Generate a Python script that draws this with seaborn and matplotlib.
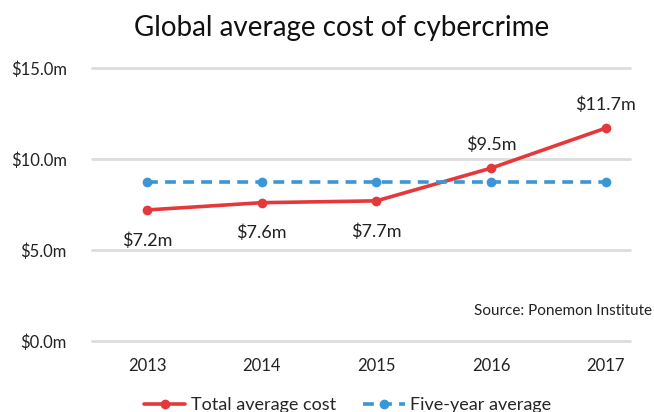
import matplotlib
matplotlib.use("Agg")
import matplotlib.pyplot as plt
import seaborn as sns
import pandas as pd

years = ["2013", "2014", "2015", "2016", "2017"]
total_cost = [7.2, 7.6, 7.7, 9.5, 11.7]
five_year_avg = [8.74, 8.74, 8.74, 8.74, 8.74]
yticks = [0, 5, 10, 15]

sns.set_style("white")
plt.rcParams["font.family"] = ["Lato", "DejaVu Sans"]

red = "#e5383b"
blue = "#3a96d6"

df = pd.DataFrame({"year": list(range(len(years))), "total": total_cost, "avg": five_year_avg})

fig = plt.figure(figsize=(6.54, 4.12), dpi=100)
ax = fig.add_axes([92 / 654, 1 - 341 / 412, (630 - 92) / 654, (341 - 68) / 412])

sns.lineplot(data=df, x="year", y="total", ax=ax, color=red, lw=2.6, marker="o",
             markersize=7, markeredgewidth=0, label="Total average cost")
sns.lineplot(data=df, x="year", y="avg", ax=ax, color=blue, lw=2.6, marker="o",
             markersize=7, markeredgewidth=0, dashes=False, label="Five-year average")
ax.lines[1].set_linestyle((0, (3, 2)))

for i, v in enumerate(total_cost):
    off = -22 if i < 3 else 17
    ax.annotate(f"${v:.1f}m", (i, v), xytext=(0, off), textcoords="offset points",
                ha="center", va="center", fontsize=13, color="#222222")

ax.set_xlim(-0.48, 4.21)
ax.set_ylim(0, 15)
ax.set_yticks(yticks)
ax.set_yticklabels([f"${t:.1f}m" for t in yticks])
ax.set_xticks(range(len(years)))
ax.set_xticklabels(years)
ax.tick_params(axis="both", length=0, labelsize=12, labelcolor="#222222")
ax.tick_params(axis="y", pad=18)
ax.tick_params(axis="x", pad=12)
ax.set_xlabel("")
ax.set_ylabel("")
ax.yaxis.grid(True, color="#dddddd", lw=2)
ax.set_axisbelow(True)
for s in ax.spines.values():
    s.set_visible(False)
for ln in ax.get_ygridlines():
    ln.set_clip_on(False)

ax.text(1.0 + 22 / 538, 0.11, "Source: Ponemon Institute", transform=ax.transAxes,
        ha="right", va="center", fontsize=11, color="#222222")

fig.suptitle("Global average cost of cybercrime", x=342 / 654, y=1 - 28 / 412,
             va="center", fontsize=20, color="#111111")

leg = ax.legend(loc="center", bbox_to_anchor=(0.475, -0.235), ncol=2, frameon=False,
                fontsize=13, handlelength=2.3, columnspacing=1.5, handletextpad=0.3)

fig.savefig("out.png", dpi=100)
